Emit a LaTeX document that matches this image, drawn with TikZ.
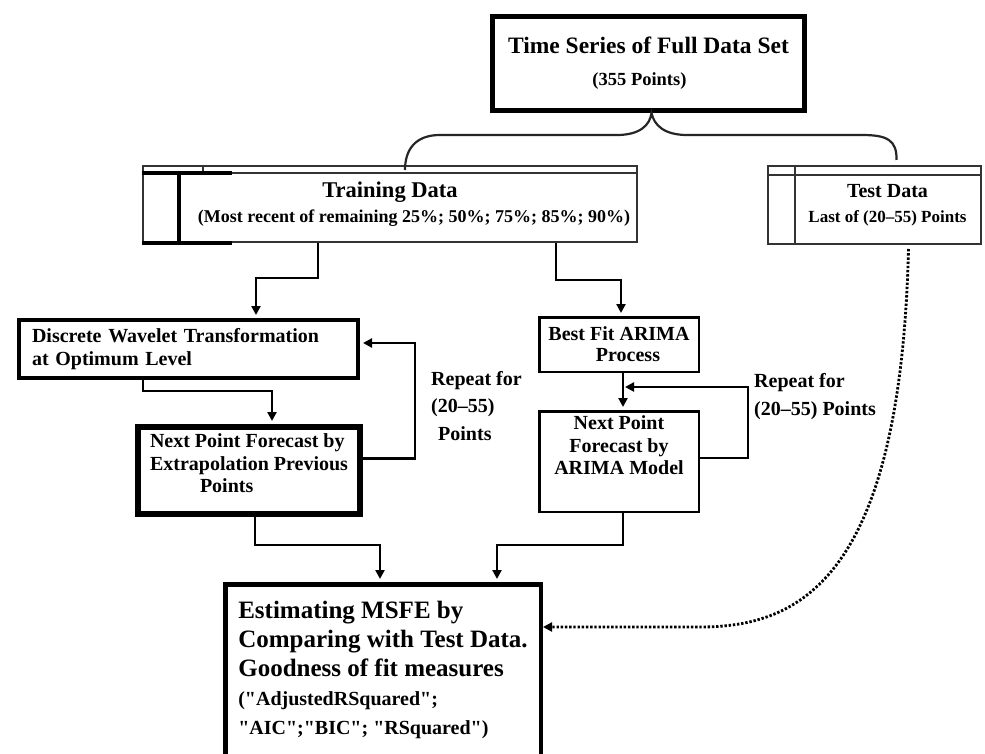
\documentclass[tikz,border=0pt]{standalone}
\usepackage{fontspec}
\setmainfont{Liberation Serif}
\usetikzlibrary{arrows.meta}

\newcommand{\fsz}[2]{\fontsize{#1}{#2}\selectfont}
\newcommand{\qq}{\textquotedbl}

\tikzset{
  box/.style={draw, line width=#1, inner sep=0pt},
  rim/.style={draw=black!80, line width=2pt},
  link/.style={line width=2.5pt, -{Triangle[length=9pt,width=9pt]}, shorten >=3pt},
  dotlink/.style={line width=2.8pt, dash pattern=on 2.4pt off 1.8pt, -{Triangle[length=9pt,width=9pt]}},
  lab/.style={inner sep=0pt, anchor=north west, align=left}
}

\begin{document}
\begin{tikzpicture}[x=1pt,y=-1pt]
  \useasboundingbox[fill=white] (0,0) rectangle (985,754);

  % full series on top
  \node[box=5pt, minimum width=312, minimum height=94, align=center,
        font=\bfseries\fsz{18.5}{32}] (full) at (648.5,63.5)
    {{\fsz{23.5}{23.5}Time Series of Full Data Set}\\(355 Points)\hspace*{18pt}};

  % split into training and test part
  \node[box=2pt, draw=black!80, minimum width=494, minimum height=76, align=center,
        font=\bfseries\fsz{18}{25}] (train) at (390,204)
    {{\fsz{22.5}{22.5}Training Data}\\\hspace*{48pt}(Most recent of remaining 25\%; 50\%; 75\%; 85\%; 90\%)};
  \node[box=2pt, draw=black!80, minimum width=213, minimum height=78, align=center,
        font=\bfseries\fsz{17}{25}] (test) at (874.5,205)
    {\hspace*{26pt}{\fsz{20}{20}Test Data}\\\hspace*{26pt}Last of (20--55) Points};

  % double top rims and the left strips
  \draw[rim] ([yshift=-8]train.north west) -- ([yshift=-8]train.north east);
  \draw[rim] ([xshift=61]train.north west) -- ([xshift=61,yshift=-8]train.north west);
  \draw[line width=3.5pt] ([yshift=-8]train.north west) -- ++(90,0);
  \draw[line width=3.5pt] (train.south west) -- ++(90,0);
  \draw[line width=3.5pt] ([xshift=37,yshift=-8]train.north west) -- ([xshift=37]train.south west);
  \draw[rim] ([yshift=-10]test.north west) -- ([yshift=-10]test.north east);
  \draw[rim] ([xshift=28]test.north west) -- ([xshift=28]test.south west);

  % brace from the full series
  \draw[line width=2.2pt, black!85]
    ([xshift=263,yshift=-5]train.north west) .. controls +(0,-20) and (415,135) .. (440,135)
    -- (617,135) .. controls (640,135) and (650,125) .. ([xshift=3]full.south)
    .. controls (654,125) and (664,135) .. (687,135) -- (862,135)
    .. controls (887,135) and (897,140) .. ([xshift=22,yshift=5]test.north);

  % wavelet branch
  \node[box=4pt, text width=313, inner xsep=13pt, minimum height=58, align=left,
        font=\bfseries\fsz{20}{23}] (dwt) at (188.5,349)
    {Discrete Wavelet Transformation\\at Optimum Level};
  \node[box=6pt, minimum width=222, minimum height=87, align=left, text depth=14pt,
        font=\bfseries\fsz{20}{22.5}] (npl) at (249,470.5)
    {Next Point Forecast by\\Extrapolation Previous\\\hspace*{50pt}Points};

  % arima branch
  \node[box=2.5pt, minimum width=159.5, minimum height=54.5, align=center,
        font=\bfseries\fsz{20}{21}] (arima) at (619,344.5)
    {Best Fit ARIMA\\\hspace*{18pt}Process};
  \node[box=2.5pt, minimum width=159.5, minimum height=100.5, align=center, text depth=32pt,
        font=\bfseries\fsz{20}{22.5}] (npa) at (619,461.5)
    {Next Point\\Forecast by\\ARIMA Model};
  \coordinate (mergeR) at ([xshift=6,yshift=23]npa.north);

  % evaluation box, runs off the bottom
  \node[box=4.5pt, minimum width=315.5, minimum height=171.5, align=left,
        font=\bfseries\fsz{25}{29}] (msfe) at (383,670)
    {Estimating MSFE by\\Comparing with Test Data.\\Goodness of fit measures\\
     {\fsz{20}{20}(\qq AdjustedRSquared\qq;}\\{\fsz{20}{20}\qq AIC\qq;\qq BIC\qq; \qq RSquared\qq)}};

  % loop labels
  \node[lab, font=\bfseries\fsz{20}{27.5}] (repl) at (431,371)
    {Repeat for\\(20--55)\\\hspace*{7pt}Points};
  \node[lab, font=\bfseries\fsz{20}{28}] (repr) at (754,373)
    {Repeat for\\(20--55) Points};

  % connectors
  \draw[link] ([xshift=176]train.south west) -- ++(0,35) -| ([xshift=239]dwt.north west);
  \draw[link] ([xshift=414]train.south west) -- ++(0,37) -| ([xshift=2]arima.north);
  \draw[link] ([xshift=126]dwt.south west) -- ++(0,11) -| ([xshift=137]npl.north west);
  \draw[link] ([yshift=12]npl.east) -- ++(52,0) |- ([yshift=6]dwt.east);
  \draw[link] ([xshift=4]arima.south) -- ([xshift=4]npa.north);
  \draw[link, shorten >=0pt] ([yshift=3.5]npa.east) -- ++(48,0) |- (mergeR);
  \draw[link] ([xshift=120]npl.south west) -- ++(0,28) -| ([xshift=157]msfe.north west);
  \draw[link] ([xshift=4]npa.south) -- ++(0,32) -| ([xshift=274]msfe.north west);

  % test data goes straight to the evaluation
  \coordinate (dotturn) at (700,627);
  \draw[dotlink] ([xshift=34,yshift=-4]test.south) .. controls +(-8,330) and +(100,0) .. (dotturn)
    -- ([yshift=43]msfe.east);
\end{tikzpicture}
\end{document}
